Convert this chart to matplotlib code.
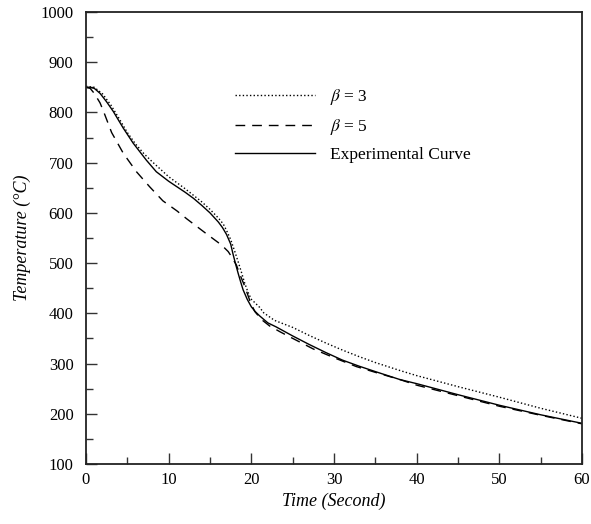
import matplotlib
matplotlib.use("Agg")
import matplotlib.pyplot as plt
from matplotlib.ticker import MultipleLocator

plt.rcParams['font.family'] = ['Liberation Serif', 'DejaVu Serif']
plt.rcParams['mathtext.fontset'] = 'stix'

# Experimental curve
t_exp = [0, 0.5, 1, 1.7, 2.5, 3.3, 4.5, 5.7, 7.3, 8.5, 10, 11, 12, 13, 14, 15, 16, 16.5,
         17, 17.5, 17.8, 18.1, 18.4, 18.7, 19, 19.5, 20, 20.5, 21, 22, 23, 25, 27, 29, 31,
         33, 35, 38, 40, 45, 50, 55, 60]
T_exp = [850, 850, 848, 838, 821, 802, 769, 739, 705, 682, 663, 652, 641, 629, 615, 600,
         582, 571, 557, 538, 517, 498, 480, 463, 447, 428, 413, 403, 395, 381, 373, 355,
         338, 322, 307, 295, 284, 268, 260, 238, 217, 198, 181]

# beta = 3
t_b3 = [0, 1, 2, 3, 4, 5, 6, 7, 8, 10, 12, 14, 15, 16, 16.6, 17, 17.5, 18, 18.4, 18.8,
        19.2, 19.6, 20, 21, 21.5, 22.8, 25, 27, 29, 31, 33, 35, 38, 40, 45, 50, 55, 60]
T_b3 = [852, 850, 837, 815, 788, 760, 737, 718, 702, 672, 648, 622, 607, 590, 578, 565,
        547, 523, 503, 482, 460, 442, 428, 412, 401, 386, 372, 356, 341, 327, 314, 302,
        286, 276, 254, 233, 211, 191]

# beta = 5
t_b5 = [0, 0.5, 1, 1.7, 2.1, 3.1, 4.5, 6.1, 7.7, 9.3, 11, 12.2, 14.6, 16.4, 17.2, 17.6,
        18.2, 18.6, 19.2, 19.8, 20.4, 21.2, 22.2, 23.5, 24.9, 27.5, 30.1, 32.7, 35.3, 38,
        40, 45, 50, 55, 60]
T_b5 = [850, 848, 838, 819, 803, 760, 719, 682, 652, 624, 604, 588, 558, 536, 523, 513,
        496, 478, 454, 426, 404, 388, 375, 363, 351, 329, 311, 294, 281, 268, 257, 236,
        215, 197, 180]

fig = plt.figure(figsize=(5.91, 5.24), dpi=100)
ax = fig.add_axes([86 / 591, 60 / 524, 496 / 591, 452 / 524])

ax.plot(t_b3, T_b3, color='black', lw=1.0, linestyle=(0, (1, 1.6)), label=r'$\beta$ = 3')
ax.plot(t_b5, T_b5, color='black', lw=1.0, linestyle=(0, (7, 5)), label=r'$\beta$ = 5')
ax.plot(t_exp, T_exp, color='black', lw=1.0, label='Experimental Curve')

ax.set_xlim(0, 60)
ax.set_ylim(100, 1000)
ax.xaxis.set_major_locator(MultipleLocator(10))
ax.xaxis.set_minor_locator(MultipleLocator(5))
ax.yaxis.set_major_locator(MultipleLocator(100))
ax.yaxis.set_minor_locator(MultipleLocator(50))
ax.tick_params(which='both', direction='in', top=False, right=False, labelsize=12,
               color='#333333')
ax.tick_params(which='major', length=8, width=1)
ax.tick_params(which='minor', length=5, width=1)
ax.tick_params(axis='x', pad=6)
ax.tick_params(axis='y', pad=9)
for s in ax.spines.values():
    s.set_linewidth(1.3)
    s.set_color('#222222')

ax.set_xlabel('Time (Second)', style='italic', fontsize=13, labelpad=3)
ax.set_ylabel('Temperature (°C)', style='italic', fontsize=13, labelpad=7)

ax.legend(loc='upper left', bbox_to_anchor=(0.30, 0.833), frameon=False, fontsize=12.5,
          handlelength=4.6, handletextpad=0.9, labelspacing=0.57, borderpad=0,
          borderaxespad=0)

fig.savefig('out.png', dpi=100)
